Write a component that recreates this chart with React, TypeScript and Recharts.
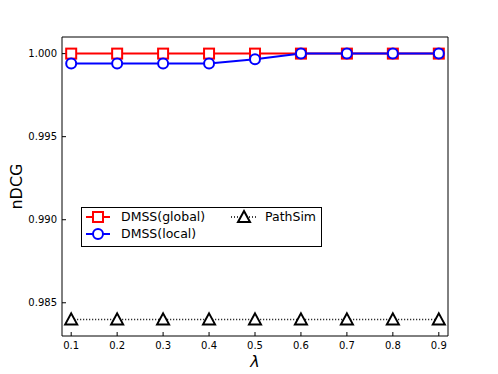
import React from "react"
import { LineChart, Line, XAxis, YAxis, Legend } from "recharts"

const lambdas = [0.1, 0.2, 0.3, 0.4, 0.5, 0.6, 0.7, 0.8, 0.9]
const dmssGlobal = [1.0, 1.0, 1.0, 1.0, 1.0, 1.0, 1.0, 1.0, 1.0]
const dmssLocal = [0.9994, 0.9994, 0.9994, 0.9994, 0.99966, 1.0, 1.0, 1.0, 1.0]
const pathSim = [0.984, 0.984, 0.984, 0.984, 0.984, 0.984, 0.984, 0.984, 0.984]

const xTicks = [0.1, 0.2, 0.3, 0.4, 0.5, 0.6, 0.7, 0.8, 0.9]
const yTicks = [0.985, 0.99, 0.995, 1.0]

const data = lambdas.map((l, i) => ({
  lambda: l,
  global: dmssGlobal[i],
  local: dmssLocal[i],
  pathsim: pathSim[i],
}))

const FONT = "'DejaVu Sans', sans-serif"

const Square = (props: any) => {
  const { cx, cy, key } = props
  return <rect key={key} x={cx - 5} y={cy - 5} width={10} height={10} fill="#fff" stroke="#ff0000" strokeWidth={2} />
}

const Triangle = (props: any) => {
  const { cx, cy, key } = props
  return (
    <path
      key={key}
      d={`M${cx},${cy - 6} L${cx + 6},${cy + 5} L${cx - 6},${cy + 5} Z`}
      fill="#fff"
      stroke="#000"
      strokeWidth={2}
    />
  )
}

const LegendBox = () => (
  <div
    style={{
      width: 241,
      height: 40,
      boxSizing: "border-box",
      border: "1px solid #000",
      background: "#fff",
      position: "relative",
      fontFamily: FONT,
      fontSize: 12.5,
    }}
  >
    <svg width={239} height={38} style={{ position: "absolute", left: 0, top: 0 }}>
      <line x1={4} x2={28} y1={9} y2={9} stroke="#ff0000" strokeWidth={2} />
      <rect x={11} y={4} width={10} height={10} fill="#fff" stroke="#ff0000" strokeWidth={2} />
      <line x1={4} x2={28} y1={26} y2={26} stroke="#0000ff" strokeWidth={2} />
      <circle cx={16} cy={26} r={5} fill="#fff" stroke="#0000ff" strokeWidth={2} />
      <line x1={149} x2={176} y1={9} y2={9} stroke="#000" strokeWidth={1.5} strokeDasharray="1 2" />
      <path d="M162,3 L168,14 L156,14 Z" fill="#fff" stroke="#000" strokeWidth={2} />
    </svg>
    <span style={{ position: "absolute", left: 39, top: 1 }}>DMSS(global)</span>
    <span style={{ position: "absolute", left: 39, top: 18 }}>DMSS(local)</span>
    <span style={{ position: "absolute", left: 183, top: 1 }}>PathSim</span>
  </div>
)

export default function App() {
  return (
    <div style={{ position: "absolute", left: 0, top: 0, width: 498, height: 374, background: "#fff" }}>
      <LineChart width={498} height={374} data={data} margin={{ top: 36, right: 49, bottom: 0, left: 0 }}>
        <XAxis
          dataKey="lambda"
          type="number"
          domain={[0.08, 0.92]}
          ticks={xTicks}
          tickFormatter={(v: number) => v.toFixed(1)}
          height={38}
          tickSize={-4}
          tickMargin={10}
          stroke="#000"
          tick={{ fill: "#000", fontSize: 10, fontFamily: FONT }}
          label={{ value: "λ", position: "insideBottom", offset: 7, fill: "#000", fontSize: 16, fontStyle: "italic", fontFamily: FONT }}
          allowDataOverflow
        />
        <XAxis
          xAxisId="top"
          dataKey="lambda"
          type="number"
          orientation="top"
          domain={[0.08, 0.92]}
          ticks={xTicks}
          height={1}
          tickSize={-4}
          tick={false}
          stroke="#000"
          allowDataOverflow
        />
        <YAxis
          type="number"
          domain={[0.983, 1.001]}
          ticks={yTicks}
          tickFormatter={(v: number) => v.toFixed(3)}
          width={62}
          tickSize={-4}
          tickMargin={9}
          stroke="#000"
          tick={{ fill: "#000", fontSize: 10, fontFamily: FONT }}
          label={{ value: "nDCG", angle: -90, position: "insideLeft", offset: 16, fill: "#000", fontSize: 16, fontFamily: FONT, style: { textAnchor: "middle" } }}
          allowDataOverflow
        />
        <YAxis
          yAxisId="right"
          type="number"
          orientation="right"
          domain={[0.983, 1.001]}
          ticks={yTicks}
          width={1}
          tickSize={-4}
          tick={false}
          stroke="#000"
          allowDataOverflow
        />
        <Legend
          verticalAlign="middle"
          align="center"
          layout="horizontal"
          content={() => <LegendBox />}
          wrapperStyle={{ left: 81, top: 207, width: 241, height: 40 }}
        />
        <Line dataKey="global" name="DMSS(global)" stroke="#ff0000" strokeWidth={2} dot={Square} activeDot={false} isAnimationActive={false} />
        <Line dataKey="local" name="DMSS(local)" stroke="#0000ff" strokeWidth={2} dot={{ r: 5, fill: "#fff", stroke: "#0000ff", strokeWidth: 2 }} activeDot={false} isAnimationActive={false} />
        <Line dataKey="pathsim" name="PathSim" stroke="#000" strokeWidth={1.5} strokeDasharray="1 2" dot={Triangle} activeDot={false} isAnimationActive={false} />
      </LineChart>
    </div>
  )
}
